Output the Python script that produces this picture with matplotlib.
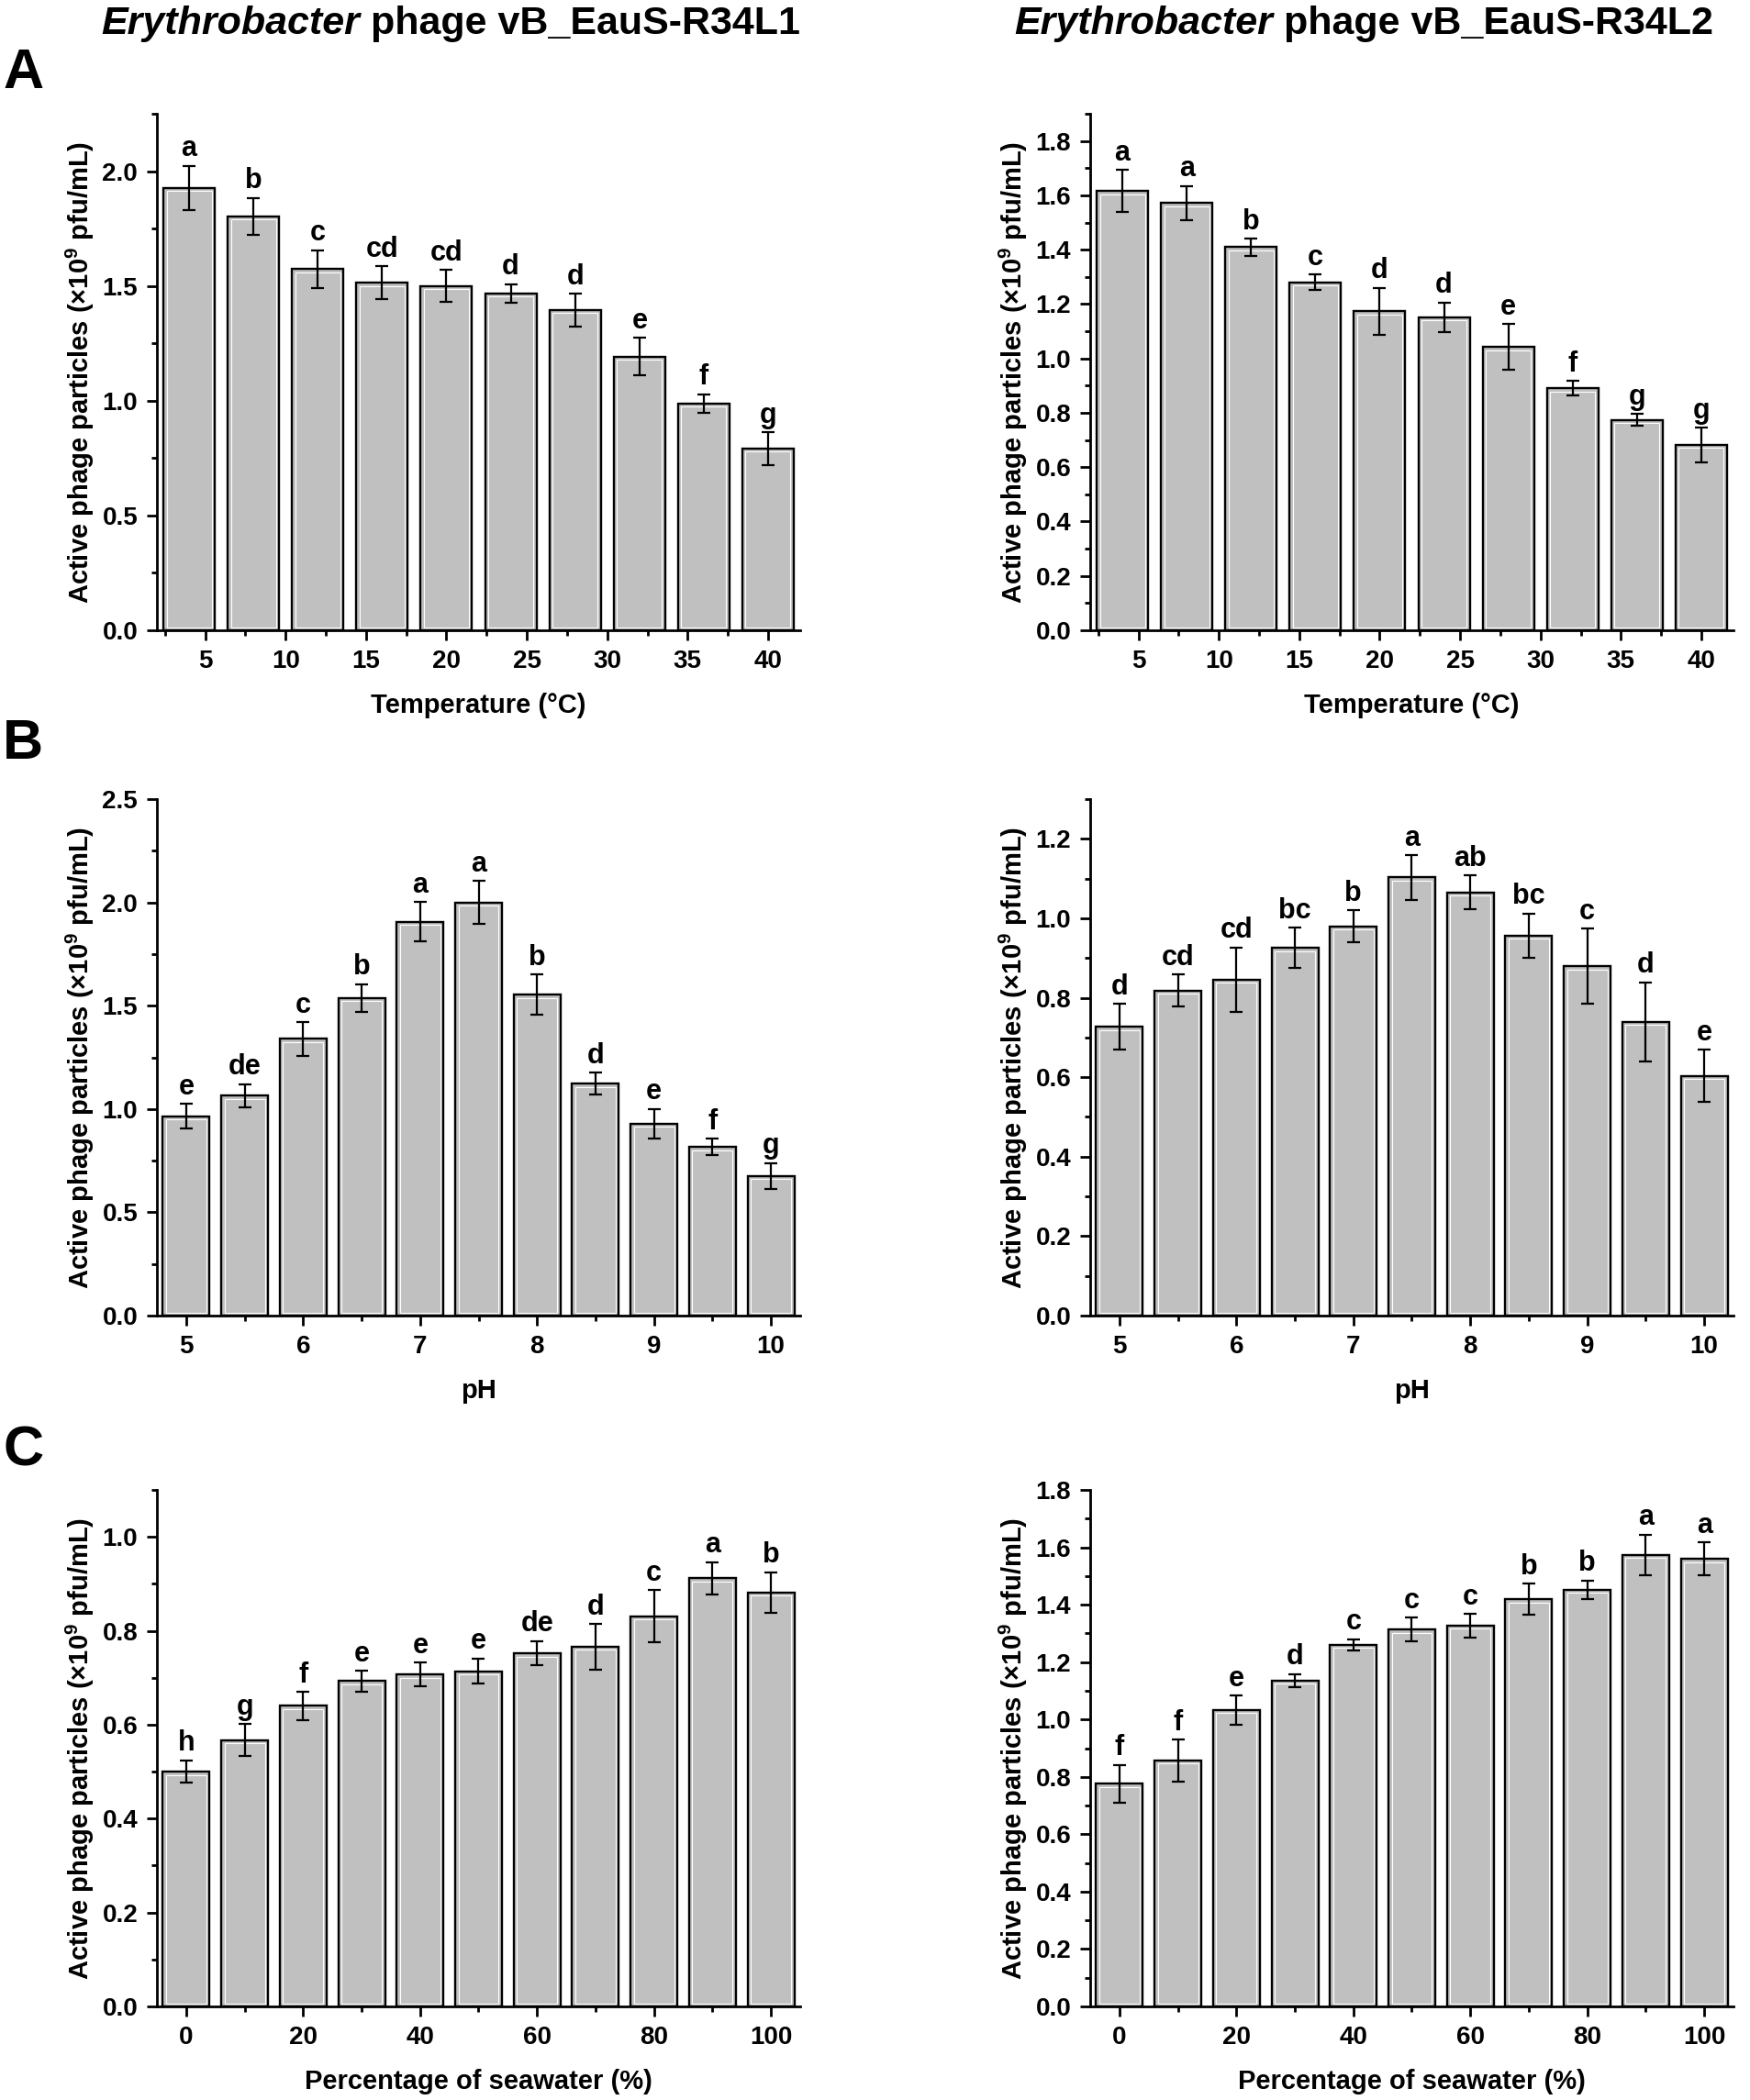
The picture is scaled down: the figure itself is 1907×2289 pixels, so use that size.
import matplotlib
matplotlib.use("Agg")
import matplotlib.pyplot as plt
from matplotlib.ticker import MultipleLocator, FormatStrFormatter

plt.rcParams["font.family"] = ["Liberation Sans", "DejaVu Sans"]
plt.rcParams["font.weight"] = "bold"
plt.rcParams["mathtext.fontset"] = "custom"
plt.rcParams["mathtext.rm"] = "Liberation Sans:bold"
plt.rcParams["mathtext.bf"] = "Liberation Sans:bold"
plt.rcParams["mathtext.it"] = "Liberation Sans:bold:italic"

# x positions
temp_x = [4, 8, 12, 16, 20, 24, 28, 32, 36, 40]
ph_x = [5, 5.5, 6, 6.5, 7, 7.5, 8, 8.5, 9, 9.5, 10]
sea_x = [0, 10, 20, 30, 40, 50, 60, 70, 80, 90, 100]

# panel A (temperature)
temp_l1 = [1.927, 1.804, 1.573, 1.513, 1.50, 1.468, 1.395, 1.192, 0.988, 0.792]
temp_l1_err = [0.097, 0.08, 0.082, 0.072, 0.07, 0.04, 0.072, 0.082, 0.04, 0.071]
temp_l1_sig = ["a", "b", "c", "cd", "cd", "d", "d", "e", "f", "g"]

temp_l2 = [1.616, 1.572, 1.409, 1.280, 1.173, 1.151, 1.042, 0.890, 0.774, 0.682]
temp_l2_err = [0.077, 0.062, 0.031, 0.029, 0.087, 0.055, 0.085, 0.027, 0.022, 0.064]
temp_l2_sig = ["a", "a", "b", "c", "d", "d", "e", "f", "g", "g"]

# panel B (pH)
ph_l1 = [0.965, 1.064, 1.339, 1.537, 1.907, 1.999, 1.554, 1.122, 0.929, 0.817, 0.675]
ph_l1_err = [0.06, 0.056, 0.082, 0.067, 0.094, 0.105, 0.097, 0.054, 0.071, 0.039, 0.064]
ph_l1_sig = ["e", "de", "c", "b", "a", "a", "b", "d", "e", "f", "g"]

ph_l2 = [0.727, 0.818, 0.846, 0.925, 0.980, 1.103, 1.065, 0.956, 0.879, 0.739, 0.603]
ph_l2_err = [0.057, 0.041, 0.081, 0.051, 0.04, 0.056, 0.043, 0.056, 0.095, 0.10, 0.066]
ph_l2_sig = ["d", "cd", "cd", "bc", "b", "a", "ab", "bc", "c", "d", "e"]

# panel C (seawater)
sea_l1 = [0.50, 0.567, 0.640, 0.693, 0.707, 0.714, 0.752, 0.766, 0.831, 0.912, 0.882]
sea_l1_err = [0.024, 0.034, 0.03, 0.022, 0.025, 0.027, 0.026, 0.048, 0.056, 0.034, 0.043]
sea_l1_sig = ["h", "g", "f", "e", "e", "e", "de", "d", "c", "a", "b"]

sea_l2 = [0.776, 0.857, 1.033, 1.136, 1.26, 1.313, 1.327, 1.419, 1.452, 1.574, 1.560]
sea_l2_err = [0.066, 0.073, 0.05, 0.022, 0.02, 0.041, 0.041, 0.054, 0.032, 0.07, 0.058]
sea_l2_sig = ["f", "f", "e", "d", "c", "c", "c", "b", "b", "a", "a"]

YLABEL = "Active phage particles (×10$^{9}$ pfu/mL)"
BAR_COLOR = "#c0c0c0"

W, H = 1908, 2289
fig = plt.figure(figsize=(W / 100, H / 100), dpi=100)


def make_axes(left_px, top_px, width_px=701, height_px=563):
    return fig.add_axes([left_px / W, 1 - (top_px + height_px) / H,
                         width_px / W, height_px / H])


def draw_panel(ax, x, vals, errs, sigs, width, xlim, ylim, xmaj, ymaj, ymin, xlabel):
    ax.set_xlim(*xlim)
    ax.set_ylim(*ylim)
    ax.bar(x, vals, width=width, color=BAR_COLOR, edgecolor="black",
           linewidth=1.7, zorder=2)

    # thin white inner border, like the Origin style bars
    px_x = ax.transData.transform((1, 0))[0] - ax.transData.transform((0, 0))[0]
    px_y = ax.transData.transform((0, 1))[1] - ax.transData.transform((0, 0))[1]
    dx = 3.5 / px_x
    dy = 3.5 / px_y
    inner_h = [v - 2 * dy for v in vals]
    ax.bar(x, inner_h, width=width - 2 * dx, bottom=dy, color="none",
           edgecolor="white", linewidth=0.8, zorder=3)

    ax.errorbar(x, vals, yerr=errs, fmt="none", ecolor="black",
                elinewidth=1.6, capsize=5.3, capthick=1.6, zorder=4)

    for xi, v, e, s in zip(x, vals, errs, sigs):
        ax.annotate(s, (xi, v + e), xytext=(0, 7.5), textcoords="offset points",
                    ha="center", va="baseline", fontsize=22, fontweight="bold")

    for side in ["top", "right"]:
        ax.spines[side].set_visible(False)
    for side in ["left", "bottom"]:
        ax.spines[side].set_linewidth(2.0)

    ax.xaxis.set_major_locator(MultipleLocator(xmaj))
    ax.xaxis.set_minor_locator(MultipleLocator(xmaj / 2))
    ax.yaxis.set_major_locator(MultipleLocator(ymaj))
    ax.yaxis.set_minor_locator(MultipleLocator(ymin))
    ax.yaxis.set_major_formatter(FormatStrFormatter("%.1f"))
    ax.tick_params(which="major", direction="out", length=8, width=2.0,
                   labelsize=20, pad=7)
    ax.tick_params(which="minor", direction="out", length=4, width=2.0)
    ax.tick_params(axis="both", which="both", top=False, right=False)
    ax.set_xlim(*xlim)
    ax.set_ylim(*ylim)
    for lab in ax.get_xticklabels() + ax.get_yticklabels():
        lab.set_fontweight("bold")

    ax.set_ylabel(YLABEL, fontsize=21, fontweight="bold")
    ax.yaxis.set_label_coords(-0.094, 0.5)
    ax.set_xlabel(xlabel, fontsize=21, fontweight="bold", labelpad=15)


LEFT_X, RIGHT_X = 171, 1188
ROW_TOP = [124, 871, 1624]

ax = make_axes(LEFT_X, ROW_TOP[0])
draw_panel(ax, temp_x, temp_l1, temp_l1_err, temp_l1_sig, 3.2, (2, 42), (0, 2.25),
           5, 0.5, 0.25, "Temperature (°C)")
ax = make_axes(RIGHT_X, ROW_TOP[0])
draw_panel(ax, temp_x, temp_l2, temp_l2_err, temp_l2_sig, 3.2, (2, 42), (0, 1.9),
           5, 0.2, 0.1, "Temperature (°C)")

ax = make_axes(LEFT_X, ROW_TOP[1])
draw_panel(ax, ph_x, ph_l1, ph_l1_err, ph_l1_sig, 0.4, (4.75, 10.25), (0, 2.5),
           1, 0.5, 0.25, "pH")
ax = make_axes(RIGHT_X, ROW_TOP[1])
draw_panel(ax, ph_x, ph_l2, ph_l2_err, ph_l2_sig, 0.4, (4.75, 10.25), (0, 1.3),
           1, 0.2, 0.1, "pH")

ax = make_axes(LEFT_X, ROW_TOP[2])
draw_panel(ax, sea_x, sea_l1, sea_l1_err, sea_l1_sig, 8, (-5, 105), (0, 1.1),
           20, 0.2, 0.1, "Percentage of seawater (%)")
ax = make_axes(RIGHT_X, ROW_TOP[2])
draw_panel(ax, sea_x, sea_l2, sea_l2_err, sea_l2_sig, 8, (-5, 105), (0, 1.8),
           20, 0.2, 0.1, "Percentage of seawater (%)")

# column titles: italic genus + bold rest
for start_px, name in [(110, "vB_EauS-R34L1"), (1105, "vB_EauS-R34L2")]:
    t1 = fig.text(start_px / W, 1 - 26 / H, "Erythrobacter", fontsize=31,
                  fontweight="bold", fontstyle="italic", ha="left", va="center")
    fig.canvas.draw()
    bb = t1.get_window_extent()
    fig.text(bb.x1 / W, 1 - 26 / H, " phage " + name, fontsize=31,
             fontweight="bold", ha="left", va="center")

# panel letters
for letter, y_px in [("A", 80), ("B", 812), ("C", 1582)]:
    fig.text(3 / W, 1 - y_px / H, letter, fontsize=44, fontweight="bold",
             ha="left", va="center")

fig.savefig("out.png", dpi=100)
